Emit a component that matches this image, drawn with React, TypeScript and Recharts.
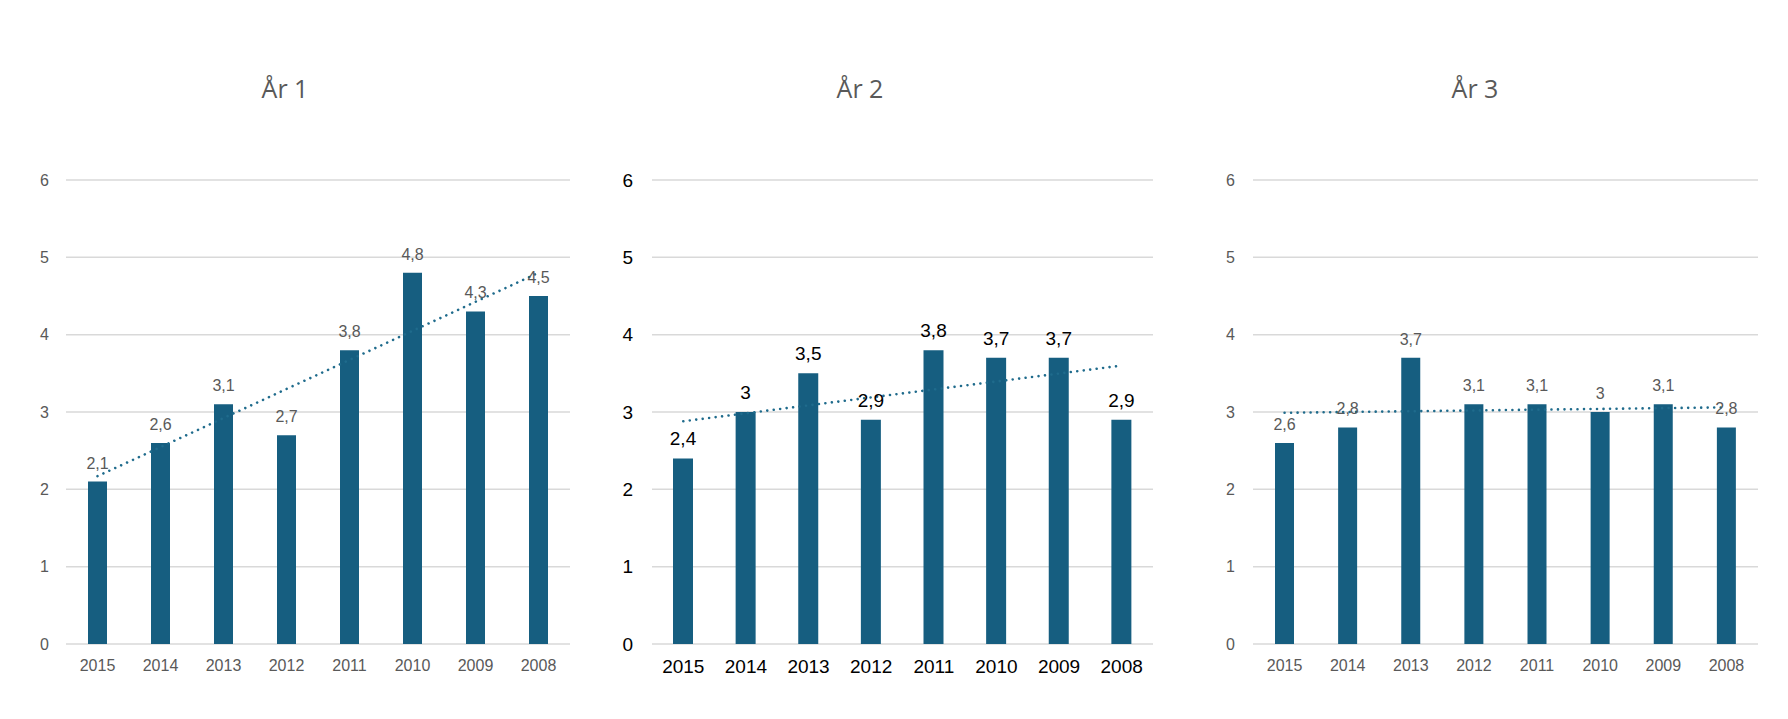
import { ComposedChart, Bar, Line, XAxis, YAxis, CartesianGrid, LabelList } from 'recharts';

const years = ['2015', '2014', '2013', '2012', '2011', '2010', '2009', '2008'];
const yTicks = [0, 1, 2, 3, 4, 5, 6];

const values1 = [2.1, 2.6, 3.1, 2.7, 3.8, 4.8, 4.3, 4.5];
const values2 = [2.4, 3, 3.5, 2.9, 3.8, 3.7, 3.7, 2.9];
const values3 = [2.6, 2.8, 3.7, 3.1, 3.1, 3, 3.1, 2.8];

// trend line end points (first and last category)
const trend1 = [2.17, 4.8];
const trend2 = [2.88, 3.6];
const trend3 = [2.99, 3.06];

const titles = ['År 1', 'År 2', 'År 3'];

const BAR = '#165E80';
const TREND = '#1F6B8C';
const GRID = '#D9D9D9';

const fmt = (v: number) => String(v).replace('.', ',');

function buildRows(values: number[], trend: number[]) {
  return years.map((y, i) => ({
    year: y,
    value: values[i],
    trend: i === 0 ? trend[0] : i === years.length - 1 ? trend[1] : null,
  }));
}

interface PanelProps {
  title: string;
  values: number[];
  trend: number[];
  left: number;
  width: number;
  axisWidth: number;
  marginRight: number;
  tickMargin: number;
  titleX: number;
  textColor: string;
  fontSize: number;
  barSize: number;
}

function Panel(p: PanelProps) {
  const rows = buildRows(p.values, p.trend);
  const tickStyle = { fill: p.textColor, fontSize: p.fontSize, fontFamily: 'Liberation Sans, Arial, sans-serif' };
  return (
    <>
      <div
        style={{
          position: 'absolute',
          left: p.titleX - 100,
          top: 70,
          width: 200,
          textAlign: 'center',
          fontFamily: 'Open Sans, Noto Sans, sans-serif',
          fontSize: 25,
          color: '#595959',
          lineHeight: '36px',
        }}
      >
        {p.title}
      </div>
      <div style={{ position: 'absolute', left: p.left, top: 0 }}>
        <ComposedChart
          width={p.width}
          height={719}
          data={rows}
          margin={{ top: 180, right: p.marginRight, bottom: 45, left: 0 }}
          barCategoryGap="35%"
        >
          <CartesianGrid vertical={false} stroke={GRID} strokeWidth={1.5} />
          <XAxis
            dataKey="year"
            axisLine={false}
            tickLine={false}
            tick={tickStyle}
            tickMargin={10}
            interval={0}
            height={30}
          />
          <YAxis
            type="number"
            domain={[0, 6]}
            ticks={yTicks}
            width={p.axisWidth}
            axisLine={false}
            tickLine={false}
            tick={tickStyle}
            tickMargin={p.tickMargin}
            interval={0}
          />
          <Bar dataKey="value" fill={BAR} barSize={p.barSize} isAnimationActive={false}>
            <LabelList
              dataKey="value"
              position="top"
              offset={13}
              formatter={(v: number) => fmt(v)}
              style={{ fill: p.textColor, fontSize: p.fontSize, fontFamily: 'Liberation Sans, Arial, sans-serif' }}
            />
          </Bar>
          <Line
            dataKey="trend"
            stroke={TREND}
            strokeWidth={2.6}
            strokeDasharray="0.01 6.5"
            strokeLinecap="round"
            dot={false}
            activeDot={false}
            connectNulls
            isAnimationActive={false}
          />
        </ComposedChart>
      </div>
    </>
  );
}

export default function App() {
  return (
    <div style={{ position: 'absolute', left: 0, top: 0, width: 1788, height: 719, background: '#fff' }}>
      <Panel
        title={titles[0]}
        values={values1}
        trend={trend1}
        left={0}
        width={600}
        axisWidth={66}
        marginRight={30}
        tickMargin={11}
        titleX={285}
        textColor="#595959"
        fontSize={16}
        barSize={19}
      />
      <Panel
        title={titles[1]}
        values={values2}
        trend={trend2}
        left={590}
        width={590}
        axisWidth={62}
        marginRight={27}
        tickMargin={13}
        titleX={860}
        textColor="#000000"
        fontSize={19}
        barSize={20}
      />
      <Panel
        title={titles[2]}
        values={values3}
        trend={trend3}
        left={1190}
        width={598}
        axisWidth={63}
        marginRight={30}
        tickMargin={12}
        titleX={1475}
        textColor="#595959"
        fontSize={16}
        barSize={19}
      />
    </div>
  );
}
